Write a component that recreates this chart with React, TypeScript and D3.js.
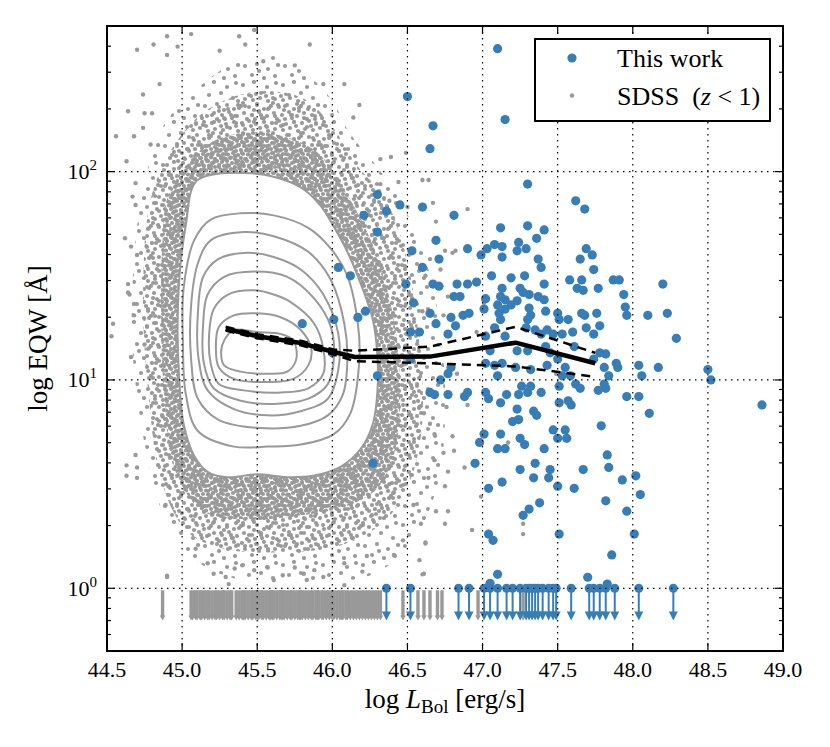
import React from 'react';
import * as d3 from 'd3';

// every point is [log L_Bol, log10 EQW]
type Pt = [number, number];

const BLUE = '#377eb8';
const GREY = '#999999';

const xTicks = [44.5, 45.0, 45.5, 46.0, 46.5, 47.0, 47.5, 48.0, 48.5, 49.0];
const yMajor = [1, 10, 100];
const LIMIT_TOP = 1; // upper limits are drawn from EQW = 1 ...
const LIMIT_TIP = 0.7; // ... down to here

// This work: detections
const thisWork: Pt[] = [
  [47.10, 2.59], [46.50, 2.36], [46.67, 2.22], [47.15, 2.25], [46.65, 2.11], [47.30, 1.94], [46.81, 1.79], [47.62, 1.86], [47.68, 1.82],
  [46.30, 1.89], [46.45, 1.84], [46.60, 1.83], [46.36, 1.81], [46.21, 1.79], [46.30, 1.71], [46.69, 1.67], [46.53, 1.62], [46.71, 1.58],
  [46.04, 1.54], [46.60, 1.54], [46.12, 1.50], [46.49, 1.46], [46.67, 1.46], [46.71, 1.45], [46.54, 1.37], [46.22, 1.33], [46.17, 1.30],
  [46.01, 1.29], [46.65, 1.32], [46.69, 1.27], [46.52, 1.23], [46.58, 1.23], [46.52, 1.10], [46.30, 1.02], [46.72, 1.00], [45.80, 1.27],
  [46.00, 1.13], [46.65, 0.94], [46.27, 0.60],
  [47.12, 1.73], [47.30, 1.74], [47.41, 1.72], [47.36, 1.68], [47.24, 1.66], [46.90, 1.63], [47.08, 1.65], [47.03, 1.63], [47.13, 1.64],
  [47.29, 1.63], [47.23, 1.62], [46.99, 1.60], [47.13, 1.59], [47.37, 1.58], [47.39, 1.54],
  [46.83, 1.46], [46.90, 1.46], [46.96, 1.47], [47.06, 1.50], [47.19, 1.49], [47.28, 1.50], [47.41, 1.46],
  [46.81, 1.40], [46.85, 1.40], [47.02, 1.39], [47.13, 1.44], [47.12, 1.40], [47.15, 1.385], [47.25, 1.44], [47.27, 1.42], [47.31, 1.41],
  [47.37, 1.40], [47.41, 1.385],
  [47.01, 1.34], [47.10, 1.36], [47.15, 1.34], [47.19, 1.36], [47.23, 1.38], [47.11, 1.32], [47.31, 1.345], [47.32, 1.31], [47.42, 1.33],
  [47.50, 1.32], [47.51, 1.29],
  [46.79, 1.30], [46.87, 1.31], [46.91, 1.32], [46.82, 1.26], [47.12, 1.29], [47.08, 1.25], [47.15, 1.21], [47.30, 1.29], [47.29, 1.25],
  [47.35, 1.24], [47.39, 1.22], [47.43, 1.24], [47.47, 1.22], [47.53, 1.22],
  [47.23, 1.14], [47.30, 1.14], [47.42, 1.16], [47.45, 1.13], [47.05, 1.14], [47.02, 1.08], [47.08, 1.07], [47.13, 1.08], [47.10, 1.02],
  [47.22, 1.06], [47.32, 1.05], [47.43, 1.07], [47.50, 1.10], [47.53, 1.02], [46.79, 1.06], [46.77, 1.03], [46.77, 1.22], [47.02, 1.21],
  [47.69, 1.63], [47.65, 1.58], [47.73, 1.60], [47.74, 1.53], [47.58, 1.48], [47.66, 1.48], [47.63, 1.44], [47.67, 1.43], [47.77, 1.44],
  [47.87, 1.48], [47.91, 1.48], [47.94, 1.41], [47.95, 1.35], [47.96, 1.31], [48.10, 1.31], [48.20, 1.46], [48.23, 1.32], [48.29, 1.20],
  [47.66, 1.32], [47.68, 1.31], [47.76, 1.32], [47.57, 1.29], [47.69, 1.25], [47.78, 1.26], [47.74, 1.22], [47.60, 1.23], [47.61, 1.16],
  [47.78, 1.13], [47.82, 1.125], [47.74, 1.10], [47.89, 1.08], [47.90, 1.06], [48.04, 1.07], [48.17, 1.06], [48.06, 1.02], [48.50, 1.05],
  [48.52, 1.00], [47.81, 1.06], [47.84, 1.02], [47.81, 0.98], [47.585, 1.02], [47.55, 1.06],
  [46.68, 0.93], [46.77, 0.93], [46.88, 0.92], [46.90, 0.94], [47.02, 0.94], [47.04, 0.91], [47.12, 0.89], [47.16, 0.93], [47.24, 0.93],
  [47.26, 0.97], [47.32, 0.97], [47.30, 0.94], [47.39, 0.94], [47.51, 0.97], [47.51, 0.89], [47.57, 0.90], [47.23, 0.86], [47.34, 0.85],
  [47.36, 0.83], [47.24, 0.81], [47.20, 0.80], [47.01, 0.74], [47.12, 0.74], [46.98, 0.70], [47.25, 0.72], [47.28, 0.69], [47.10, 0.67],
  [47.15, 0.67], [47.41, 0.67], [47.47, 0.76], [47.55, 0.76], [47.50, 0.72], [47.56, 0.72],
  [46.95, 0.60], [47.25, 0.57], [47.35, 0.60], [47.45, 0.57], [47.34, 0.53], [47.44, 0.53], [47.13, 0.51], [47.04, 0.48], [47.50, 0.49],
  [47.38, 0.41], [47.31, 0.38], [47.27, 0.35], [47.04, 0.26], [47.07, 0.23], [47.51, 0.26],
  [47.62, 0.98], [47.65, 0.96], [47.77, 0.95], [47.82, 0.96], [47.96, 0.92], [48.04, 0.92], [47.59, 0.88], [48.11, 0.84], [48.86, 0.88],
  [47.79, 0.78], [47.83, 0.64], [47.84, 0.58], [47.67, 0.57], [48.02, 0.54], [47.93, 0.52], [47.61, 0.48], [48.05, 0.45], [47.82, 0.42],
  [47.96, 0.37], [48.01, 0.26], [47.86, 0.16],
  [47.10, 0.067], [47.05, 0.024], [47.70, 0.053], [47.83, 0.02],
];

// This work: upper limits (log L_Bol)
const thisWorkLimits = [
  46.36, 46.52, 46.84, 46.91, 47.01, 47.05, 47.10, 47.16, 47.20, 47.25, 47.29, 47.31, 47.33, 47.35,
  47.37, 47.40, 47.44, 47.47, 47.49, 47.59, 47.71, 47.74, 47.78, 47.82, 47.88, 48.04, 48.27,
];

// SDSS upper limits (log L_Bol)
const sdssLimits = [
  44.87, 45.06, 45.07, 45.09, 45.10, 45.12, 45.13, 45.15, 45.17, 45.18, 45.20, 45.22, 45.23, 45.25, 45.27,
  45.28, 45.30, 45.32, 45.33, 45.36, 45.38, 45.40, 45.41, 45.42, 45.44, 45.46, 45.47, 45.49, 45.50, 45.51,
  45.53, 45.54, 45.56, 45.58, 45.59, 45.60, 45.61, 45.63, 45.65, 45.66, 45.67, 45.68, 45.70, 45.72, 45.73,
  45.75, 45.77, 45.78, 45.79, 45.80, 45.82, 45.84, 45.86, 45.87, 45.89, 45.90, 45.91, 45.93, 45.94, 45.96,
  45.98, 46.00, 46.01, 46.03, 46.05, 46.06, 46.07, 46.09, 46.10, 46.12, 46.14, 46.16, 46.18, 46.20, 46.22,
  46.24, 46.26, 46.28, 46.30, 46.32, 46.47, 46.57, 46.61, 46.65, 46.70, 46.73, 46.97, 47.27,
];

// SDSS: isolated points outside the crowded cloud
const sdssOutliers: Pt[] = [
  [44.90, 2.65], [45.06, 2.66], [44.81, 2.61], [44.70, 2.585], [44.97, 2.60], [45.38, 2.65], [45.48, 2.68], [45.42, 2.61], [45.25, 2.58],
  [44.90, 2.56], [45.85, 2.61], [45.75, 2.51], [45.54, 2.53], [45.94, 2.42], [46.08, 2.42], [46.18, 2.32], [46.14, 2.26], [44.74, 2.37],
  [44.85, 2.42], [44.64, 2.29], [44.56, 2.17], [44.68, 2.17], [44.75, 2.28], [44.80, 2.28], [44.74, 2.21], [44.79, 2.13], [44.62, 1.68],
  [44.67, 1.88], [44.66, 1.64], [44.53, 1.21], [44.66, 1.11], [44.68, 1.31], [44.65, 1.41], [44.64, 1.46], [44.75, 1.17], [44.69, 0.64],
  [44.63, 0.54], [44.70, 0.53], [44.87, 0.825], [44.89, 0.40], [44.91, 0.49], [44.90, 0.06], [45.09, 0.19], [46.23, 0.155], [46.41, 0.16],
  [46.47, 0.23], [46.59, 0.31], [46.62, 0.22], [46.54, 0.40], [46.41, 0.46], [46.38, 0.50],
  [44.63, 2.05], [44.69, 1.945], [44.69, 1.84], [44.70, 1.60], [44.64, 1.42], [44.68, 1.365], [44.54, 1.27], [44.63, 0.59], [44.70, 0.58],
  [46.90, 0.88], [46.76, 0.87], [46.81, 0.66], [46.88, 0.58], [46.93, 0.28], [46.99, 0.44], [47.17, 0.70], [47.27, 0.31], [47.27, 0.26],
  [46.80, 0.73], [46.74, 0.65], [46.77, 0.56], [46.75, 0.49], [46.69, 0.37], [46.77, 0.37], [46.75, 0.31], [46.62, 0.215], [46.61, 0.07],
  [46.58, 0.135], [46.68, 0.615], [46.64, 0.53], [46.65, 0.79], [46.68, 0.74], [46.58, 0.87], [46.61, 0.84],
  [46.90, 1.82], [46.69, 1.76], [46.75, 1.62], [46.82, 1.62], [46.72, 1.53], [46.77, 1.40], [46.60, 1.33], [46.50, 1.83], [46.65, 1.58],
  [46.62, 1.50], [46.80, 1.61], [46.74, 1.31], [46.96, 1.23], [47.01, 1.37], [46.83, 1.03], [47.49, 1.03],
  [46.39, 2.07], [46.49, 2.09], [46.32, 2.06], [46.60, 1.96], [46.64, 1.96], [46.44, 1.95], [46.38, 1.86], [46.67, 1.85], [46.32, 1.94],
  [44.90, 0.054], [45.17, 0.12], [45.21, 0.07], [45.29, 0.054], [45.35, 0.095], [45.40, 0.11], [45.48, 0.087], [45.57, 0.10], [45.67, 0.0625],
  [45.75, 0.10], [45.81, 0.07], [45.88, 0.087], [45.94, 0.054], [46.08, 0.12], [46.20, 0.08], [46.08, 0.015], [46.60, 0.067], [45.31, 0.02],
  [45.61, 0.04], [45.83, 0.04],
];

// SDSS cloud outlines: loosely populated, medium, crowded
const sdssSparse: Pt[] = [
  [44.73, 1.865], [44.86, 2.20], [45.09, 2.39], [45.32, 2.51], [45.59, 2.56], [45.79, 2.49], [45.99, 2.35], [46.12, 2.18], [46.29, 2.03],
  [46.45, 1.865], [46.62, 1.58], [46.72, 1.24], [46.75, 0.81], [46.69, 0.47], [46.52, 0.21], [46.255, 0.0625], [45.79, 0.03], [45.39, 0.04],
  [45.09, 0.135], [44.89, 0.33], [44.76, 0.66], [44.67, 1.14], [44.68, 1.58],
];
const sdssMid: Pt[] = [
  [44.79, 1.865], [44.93, 2.106], [45.125, 2.274], [45.39, 2.37], [45.62, 2.385], [45.82, 2.346], [45.99, 2.226], [46.16, 2.034],
  [46.355, 1.865], [46.49, 1.60], [46.57, 1.24], [46.60, 0.81], [46.52, 0.52], [46.355, 0.327], [46.06, 0.207], [45.66, 0.173],
  [45.26, 0.192], [45.025, 0.279], [44.86, 0.519], [44.78, 0.904], [44.74, 1.385],
];
const sdssDense: Pt[] = [
  [44.90, 1.87], [45.05, 2.05], [45.22, 2.15], [45.46, 2.19], [45.72, 2.16], [45.92, 2.08], [46.09, 1.90], [46.25, 1.68], [46.39, 1.36],
  [46.45, 1.01], [46.42, 0.67], [46.30, 0.48], [46.08, 0.39], [45.79, 0.35], [45.46, 0.33], [45.14, 0.37], [44.95, 0.57], [44.88, 0.93],
  [44.86, 1.36], [44.87, 1.67],
];

// SDSS density contours, outermost (white filled) first
const contourOuter: Pt[] = [
  [45.10, 1.958], [45.19, 1.984], [45.46, 1.992], [45.61, 1.975], [45.79, 1.924], [45.92, 1.838], [46.01, 1.735], [46.10, 1.615],
  [46.19, 1.46], [46.27, 1.288], [46.30, 1.117], [46.30, 0.945], [46.27, 0.79], [46.19, 0.67], [46.06, 0.585], [45.88, 0.541],
  [45.70, 0.533], [45.50, 0.547], [45.30, 0.533], [45.17, 0.559], [45.08, 0.636], [45.01, 0.79], [44.98, 1.014], [44.97, 1.271],
  [44.99, 1.563], [45.03, 1.769], [45.06, 1.907],
];
const contourLines: Pt[][] = [
  [[45.39, 1.80], [45.61, 1.79], [45.84, 1.73], [45.99, 1.63], [46.10, 1.50], [46.17, 1.27], [46.18, 1.10], [46.12, 0.84], [46.01, 0.74],
   [45.79, 0.69], [45.57, 0.68], [45.345, 0.68], [45.105, 0.755], [45.025, 0.93], [45.005, 1.19], [45.01, 1.44], [45.08, 1.67], [45.19, 1.77]],
  [[45.41, 1.71], [45.61, 1.69], [45.84, 1.615], [45.99, 1.48], [46.08, 1.27], [46.10, 1.10], [46.07, 0.93], [45.97, 0.83], [45.79, 0.78],
   [45.50, 0.77], [45.24, 0.81], [45.105, 0.91], [45.06, 1.10], [45.06, 1.36], [45.105, 1.56], [45.19, 1.67]],
  [[45.44, 1.61], [45.61, 1.59], [45.79, 1.53], [45.94, 1.41], [46.04, 1.22], [46.04, 1.05], [45.97, 0.91], [45.79, 0.85], [45.57, 0.83],
   [45.345, 0.86], [45.17, 0.95], [45.11, 1.10], [45.105, 1.32], [45.14, 1.495], [45.24, 1.58]],
  [[45.48, 1.52], [45.70, 1.495], [45.88, 1.39], [45.99, 1.255], [46.01, 1.10], [45.97, 0.98], [45.84, 0.91], [45.61, 0.885], [45.39, 0.90],
   [45.21, 0.96], [45.145, 1.08], [45.14, 1.27], [45.17, 1.41], [45.28, 1.495]],
  [[45.48, 1.43], [45.61, 1.41], [45.72, 1.375], [45.88, 1.27], [45.94, 1.15], [45.94, 1.03], [45.84, 0.96], [45.66, 0.94], [45.41, 0.95],
   [45.245, 0.98], [45.19, 1.08], [45.18, 1.22], [45.21, 1.34], [45.305, 1.41]],
  [[45.50, 1.32], [45.66, 1.30], [45.79, 1.24], [45.86, 1.15], [45.84, 1.07], [45.74, 1.005], [45.57, 0.99], [45.345, 1.005], [45.245, 1.06],
   [45.225, 1.15], [45.245, 1.255], [45.345, 1.31]],
  [[45.50, 1.23], [45.66, 1.22], [45.74, 1.19], [45.76, 1.10], [45.70, 1.04], [45.57, 1.03], [45.39, 1.04], [45.28, 1.07], [45.26, 1.135],
   [45.28, 1.19], [45.345, 1.24]],
];

// running median and its band
const medianLine: Pt[] = [
  [45.29, 1.246], [45.50, 1.21], [45.79, 1.177], [46.01, 1.134], [46.15, 1.11], [46.65, 1.112], [47.22, 1.179], [47.75, 1.08],
];
const upperLine: Pt[] = [
  [45.29, 1.255], [45.50, 1.22], [45.79, 1.188], [46.01, 1.146], [46.15, 1.14], [46.65, 1.16], [47.22, 1.255], [47.75, 1.13],
];
const lowerLine: Pt[] = [
  [45.29, 1.237], [45.50, 1.20], [45.79, 1.166], [46.01, 1.122], [46.15, 1.09], [46.65, 1.08], [47.22, 1.065], [47.75, 1.015],
];

const W = 830;
const H = 747;
const margin = { top: 26, right: 47, bottom: 96, left: 107 };
const FONT = '"Liberation Serif", "DejaVu Serif", serif';

// repeating speckle used to paint the crowded SDSS cloud (tile offsets only, no data)
function Speckle({ id, size, dots, r, fill }: {
  id: string; size: number; dots: number[][]; r: number; fill: string;
}) {
  const shifts = [-size, 0, size];
  return (
    <pattern id={id} width={size} height={size} patternUnits="userSpaceOnUse">
      {dots.map(([cx, cy], i) =>
        shifts.map((dx) =>
          shifts.map((dy) => (
            <circle key={`${i}-${dx}-${dy}`} cx={cx + dx} cy={cy + dy} r={r} fill={fill} />
          ))
        )
      )}
    </pattern>
  );
}

export default function App() {
  const x0 = margin.left;
  const x1 = W - margin.right;
  const y0 = margin.top;
  const y1 = H - margin.bottom;

  const x = d3.scaleLinear().domain([44.5, 49.0]).range([x0, x1]);
  const y = d3.scaleLog().domain([0.5, 500]).range([y1, y0]);
  const px = (d: Pt) => x(d[0]);
  const py = (d: Pt) => y(Math.pow(10, d[1]));

  const blob = d3.line<Pt>().x(px).y(py).curve(d3.curveCatmullRomClosed.alpha(0.5));
  const polyline = d3.line<Pt>().x(px).y(py);

  const yMinor = y.ticks().filter((v) => !yMajor.some((m) => Math.abs(m - v) < 1e-9));

  const arrow = (v: number, hw: number, hh: number, startGap: number) => {
    const cx = x(v);
    const top = y(LIMIT_TOP) + startGap;
    const tip = y(LIMIT_TIP);
    return {
      line: `M${cx},${top}L${cx},${tip - hh + 1}`,
      head: `M${cx - hw},${tip - hh}L${cx + hw},${tip - hh}L${cx},${tip}Z`,
    };
  };

  return (
    <svg
      width={W}
      height={H}
      viewBox={`0 0 ${W} ${H}`}
      style={{ position: 'absolute', left: 0, top: 0, background: 'white' }}
      fontFamily={FONT}
    >
      <defs>
        <clipPath id="plot">
          <rect x={x0} y={y0} width={x1 - x0} height={y1 - y0} />
        </clipPath>
        <Speckle id="sp-sparse" size={40} r={2.1} fill={GREY}
          dots={[[3, 5], [14, 2], [27, 7], [36, 3], [9, 15], [21, 13], [33, 18], [5, 26], [17, 24], [28, 29],
            [38, 25], [12, 35], [24, 38], [35, 36], [19, 31]]} />
        <Speckle id="sp-mid" size={30} r={2.1} fill={GREY}
          dots={[[2, 3], [9, 1], [16, 4], [24, 2], [5, 9], [13, 10], [20, 8], [28, 11], [1, 16], [9, 17], [17, 15],
            [24, 19], [4, 23], [12, 25], [19, 22], [27, 26], [7, 29], [15, 29], [22, 28], [26, 6], [11, 6], [3, 13],
            [21, 25], [14, 20], [29, 18]]} />
        <Speckle id="sp-dense" size={20} r={2.1} fill={GREY}
          dots={[[2, 2], [7, 1], [12, 3], [17, 1], [4, 6], [9, 5.5], [15, 7], [19, 5], [1, 10], [6, 10.5], [11, 9],
            [16, 11], [3, 14], [8, 14.5], [13, 13], [18, 15], [1, 18], [6, 19], [11, 17.5], [15, 19]]} />
      </defs>

      <g clipPath="url(#plot)">
        {/* SDSS cloud */}
        <path d={blob(sdssSparse)!} fill="url(#sp-sparse)" />
        <path d={blob(sdssMid)!} fill="url(#sp-mid)" />
        <path d={blob(sdssDense)!} fill="url(#sp-dense)" />
        {sdssOutliers.map((d, i) => (
          <circle key={`o${i}`} cx={px(d)} cy={py(d)} r={2.2} fill={GREY} />
        ))}

        {/* SDSS upper limits */}
        {sdssLimits.map((v, i) => {
          const a = arrow(v, 2.8, 5, 2);
          return (
            <g key={`sl${i}`}>
              <path d={a.line} stroke={GREY} strokeWidth={3.4} />
              <path d={a.head} fill={GREY} />
            </g>
          );
        })}

        {/* density contours */}
        <path d={blob(contourOuter)!} fill="white" stroke={GREY} strokeWidth={2} />
        {contourLines.map((c, i) => (
          <path key={`c${i}`} d={blob(c)!} fill="none" stroke={GREY} strokeWidth={2} />
        ))}

        {/* This work upper limits */}
        {thisWorkLimits.map((v, i) => {
          const a = arrow(v, 4.5, 9, 0);
          return (
            <g key={`tl${i}`}>
              <path d={a.line} stroke={BLUE} strokeWidth={2} />
              <path d={a.head} fill={BLUE} />
              <circle cx={x(v)} cy={y(LIMIT_TOP)} r={4.5} fill={BLUE} />
            </g>
          );
        })}

        {/* This work detections */}
        {thisWork.map((d, i) => (
          <circle key={`b${i}`} cx={px(d)} cy={py(d)} r={4.6} fill={BLUE} />
        ))}

        {/* median and band */}
        <path d={polyline(upperLine)!} fill="none" stroke="black" strokeWidth={2.5} strokeDasharray="9,6" />
        <path d={polyline(lowerLine)!} fill="none" stroke="black" strokeWidth={2.5} strokeDasharray="9,6" />
        <path d={polyline(medianLine)!} fill="none" stroke="black" strokeWidth={4.5} strokeLinejoin="round" />
      </g>

      {/* grid */}
      <g stroke="black" strokeWidth={1.2} strokeDasharray="1.5,4.5">
        {xTicks.slice(1, -1).map((v) => (
          <line key={`gx${v}`} x1={x(v)} x2={x(v)} y1={y0} y2={y1} />
        ))}
        {yMajor.map((v) => (
          <line key={`gy${v}`} x1={x0} x2={x1} y1={y(v)} y2={y(v)} />
        ))}
      </g>

      {/* ticks */}
      <g stroke="black" strokeWidth={1.2}>
        {xTicks.map((v) => (
          <g key={`tx${v}`}>
            <line x1={x(v)} x2={x(v)} y1={y1} y2={y1 - 8} />
            <line x1={x(v)} x2={x(v)} y1={y0} y2={y0 + 8} />
          </g>
        ))}
        {yMajor.map((v) => (
          <g key={`ty${v}`}>
            <line x1={x0} x2={x0 + 8} y1={y(v)} y2={y(v)} />
            <line x1={x1} x2={x1 - 8} y1={y(v)} y2={y(v)} />
          </g>
        ))}
        {yMinor.map((v) => (
          <g key={`tm${v}`}>
            <line x1={x0} x2={x0 + 4} y1={y(v)} y2={y(v)} />
            <line x1={x1} x2={x1 - 4} y1={y(v)} y2={y(v)} />
          </g>
        ))}
      </g>

      <rect x={x0} y={y0} width={x1 - x0} height={y1 - y0} fill="none" stroke="black" strokeWidth={2} />

      {/* tick labels */}
      {xTicks.map((v) => (
        <text key={`lx${v}`} x={x(v)} y={y1 + 26} textAnchor="middle" fontSize={22}>
          {v.toFixed(1)}
        </text>
      ))}
      {yMajor.map((v) => (
        <text key={`ly${v}`} x={x0 - 10} y={y(v) + 7.5} textAnchor="end" fontSize={22}>
          10<tspan dy={-9} fontSize={15}>{Math.round(Math.log10(v))}</tspan>
        </text>
      ))}

      {/* axis labels */}
      <text x={(x0 + x1) / 2} y={708} textAnchor="middle" fontSize={27}>
        log <tspan fontStyle="italic">L</tspan>
        <tspan fontSize={19} dy={5}>Bol</tspan>
        <tspan dy={-5}> [erg/s]</tspan>
      </text>
      <text transform={`translate(47,${(y0 + y1) / 2}) rotate(-90)`} textAnchor="middle" fontSize={27}>
        log EQW [Å]
      </text>

      {/* legend */}
      <g>
        <rect x={535} y={39} width={235} height={82} fill="white" stroke="black" strokeWidth={2} />
        <circle cx={572} cy={58} r={4.6} fill={BLUE} />
        <text x={617} y={66.5} fontSize={26}>This work</text>
        <circle cx={572} cy={95.5} r={2.2} fill={GREY} />
        <text x={617} y={104.5} fontSize={26}>
          SDSS<tspan dx={13}>(</tspan><tspan fontStyle="italic">z</tspan> &lt; 1)
        </text>
      </g>
    </svg>
  );
}
